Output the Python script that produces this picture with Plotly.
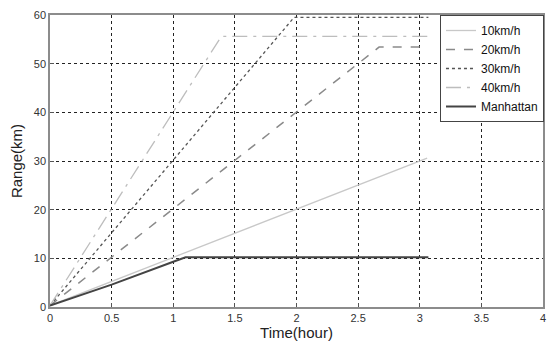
import plotly.graph_objects as go

# Data
time_10 = [0, 3.06]
range_10 = [0.3, 30.6]
time_20 = [0, 2.67, 3.07]
range_20 = [0.3, 53.4, 53.4]
time_30 = [0, 1.98, 3.07]
range_30 = [0.3, 59.5, 59.5]
time_40 = [0, 1.39, 3.07]
range_40 = [0.3, 55.6, 55.6]
time_man = [0, 0.5, 1.0, 1.1, 3.07]
range_man = [0.3, 4.6, 9.3, 10.2, 10.2]

series = [
    ("10km/h", time_10, range_10, dict(color="#c8c8c8", width=1.3, dash="solid")),
    ("20km/h", time_20, range_20, dict(color="#8a8a8a", width=1.5, dash="dash")),
    ("30km/h", time_30, range_30, dict(color="#555555", width=1.3, dash="dot")),
    ("40km/h", time_40, range_40, dict(color="#bdbdbd", width=1.3, dash="longdashdot")),
    ("Manhattan", time_man, range_man, dict(color="#444444", width=2, dash="solid")),
]

fig = go.Figure()
for name, xs, ys, ln in series:
    fig.add_trace(go.Scatter(x=xs, y=ys, mode="lines", name=name, line=ln))

axis_common = dict(
    showline=True, mirror=True, linecolor="#8c8c8c", linewidth=1.5,
    showgrid=True, gridcolor="#222222", griddash="dot", gridwidth=1,
    ticks="inside", ticklen=4, tickcolor="#555555",
    zeroline=False,
    tickfont=dict(family="Liberation Sans", size=11, color="#333333"),
    title_font=dict(family="Liberation Sans", size=15, color="#222222"),
)

fig.update_xaxes(range=[0, 4], dtick=0.5, title_text="Time(hour)", title_standoff=4, **axis_common)
fig.update_yaxes(range=[0, 60], dtick=10, title_text="Range(km)", title_standoff=8, **axis_common)

fig.update_layout(
    width=555, height=347,
    margin=dict(l=50, r=9, t=13, b=37),
    plot_bgcolor="white", paper_bgcolor="white",
    legend=dict(
        x=1.002, y=1, xanchor="right", yanchor="top",
        bgcolor="white", bordercolor="#444444", borderwidth=1,
        font=dict(family="Liberation Sans", size=12, color="#111111"),
        tracegroupgap=0, itemwidth=30,
    ),
    showlegend=True,
)

fig.write_html("out.html")
